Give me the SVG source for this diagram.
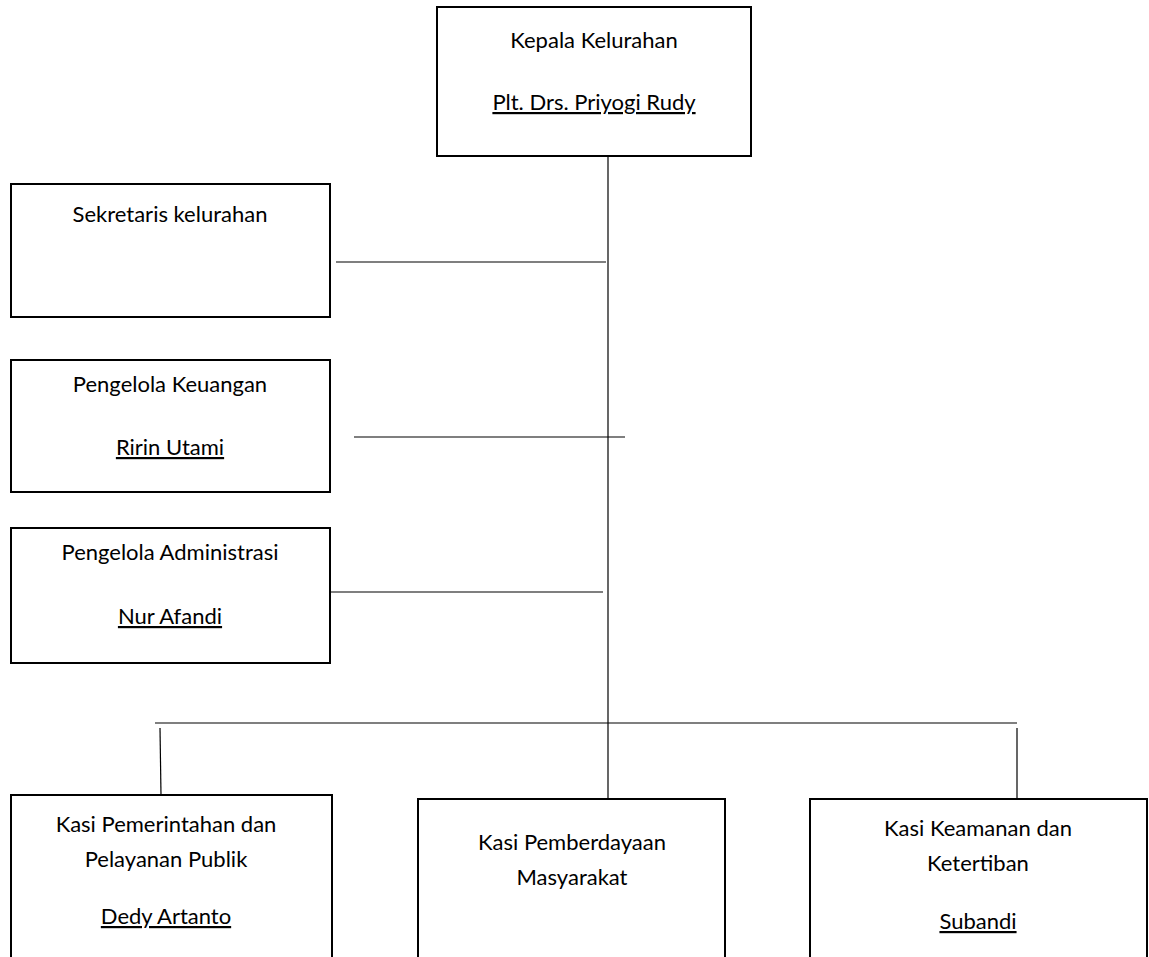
<svg xmlns="http://www.w3.org/2000/svg" width="1149" height="957" viewBox="0 0 1149 957">
<style>
.box{fill:#fff;stroke:#000;stroke-width:2}
.t{font-family:Lato,"Open Sans","Liberation Sans",sans-serif;font-size:22px;fill:#000;text-anchor:middle}
.u{text-decoration:underline}
.c{stroke:#000;stroke-width:1.2;fill:none}
</style>
<rect width="1149" height="957" fill="#fff"/>
<g id="connectors">
<line class="c" x1="608" y1="157" x2="608" y2="799"/>
<line class="c" x1="336" y1="262" x2="606" y2="262"/>
<line class="c" x1="354" y1="437" x2="625" y2="437"/>
<line class="c" x1="331" y1="592" x2="603" y2="592"/>
<line class="c" x1="155" y1="723" x2="1017" y2="723"/>
<line class="c" x1="160" y1="728" x2="161" y2="795"/>
<line class="c" x1="1017" y1="728" x2="1017" y2="799"/>
</g>
<g id="kepala">
<rect class="box" x="437" y="7" width="314" height="149"/>
<text class="t" x="594" y="48">Kepala Kelurahan</text>
<text class="t u" x="594" y="110">Plt. Drs. Priyogi Rudy</text>
</g>
<g id="sekretaris">
<rect class="box" x="11" y="184" width="319" height="133"/>
<text class="t" x="170" y="222">Sekretaris kelurahan</text>
</g>
<g id="keuangan">
<rect class="box" x="11" y="360" width="319" height="132"/>
<text class="t" x="170" y="392">Pengelola Keuangan</text>
<text class="t u" x="170" y="455">Ririn Utami</text>
</g>
<g id="administrasi">
<rect class="box" x="11" y="528" width="319" height="135"/>
<text class="t" x="170" y="560">Pengelola Administrasi</text>
<text class="t u" x="170" y="624">Nur Afandi</text>
</g>
<g id="pemerintahan">
<rect class="box" x="11" y="795" width="321" height="170"/>
<text class="t" x="166" y="832">Kasi Pemerintahan dan</text>
<text class="t" x="166" y="867">Pelayanan Publik</text>
<text class="t u" x="166" y="924">Dedy Artanto</text>
</g>
<g id="pemberdayaan">
<rect class="box" x="418" y="799" width="307" height="170"/>
<text class="t" x="572" y="850">Kasi Pemberdayaan</text>
<text class="t" x="572" y="885">Masyarakat</text>
</g>
<g id="keamanan">
<rect class="box" x="810" y="799" width="337" height="170"/>
<text class="t" x="978" y="836">Kasi Keamanan dan</text>
<text class="t" x="978" y="871">Ketertiban</text>
<text class="t u" x="978" y="929">Subandi</text>
</g>
</svg>
